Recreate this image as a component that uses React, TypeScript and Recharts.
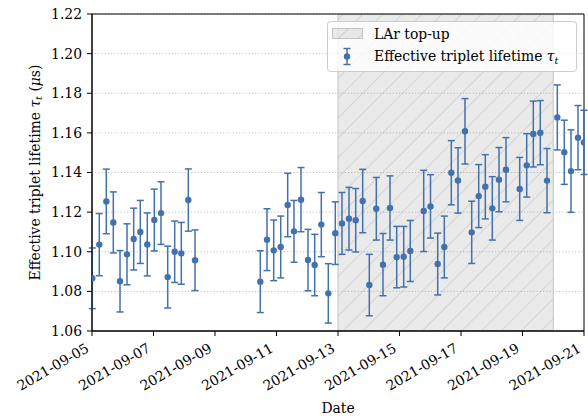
import React from 'react';
import {
  ComposedChart,
  Scatter,
  XAxis,
  YAxis,
  CartesianGrid,
  ReferenceArea,
  ErrorBar,
} from 'recharts';

// days since 2021-09-05 00:00
const dayOffsets = [
  0.01, 0.237, 0.465, 0.693, 0.911, 1.138, 1.356, 1.571, 1.798, 2.026, 2.244, 2.462, 2.689, 2.904, 3.132, 3.35,
  5.473, 5.691, 5.909, 6.137, 6.364, 6.569, 6.797, 7.024, 7.242, 7.457, 7.685, 7.912, 8.13, 8.358, 8.576, 8.803,
  9.018, 9.246, 9.463, 9.691, 9.909, 10.137, 10.351, 10.787, 11.008, 11.242, 11.457, 11.685, 11.902, 12.13,
  12.348, 12.576, 12.79, 13.018, 13.236, 13.463, 13.909, 14.137, 14.351, 14.579, 14.797, 15.132, 15.359, 15.577,
  15.805, 16.0,
];

const lifetimes = [
  1.0866, 1.1036, 1.1254, 1.1148, 1.0851, 1.0987, 1.1064, 1.11, 1.1037, 1.116, 1.1195, 1.0872, 1.1, 1.0992, 1.1261, 1.0957,
  1.0849, 1.1061, 1.1007, 1.1024, 1.1236, 1.1103, 1.1263, 1.0958, 1.0933, 1.1137, 1.079, 1.1094, 1.1143, 1.1167, 1.1159, 1.1256,
  1.0832, 1.1217, 1.0935, 1.1221, 1.0973, 1.0975, 1.1004, 1.1206, 1.1229, 1.0938, 1.1024, 1.1399, 1.136, 1.1608,
  1.1098, 1.1281, 1.1328, 1.1219, 1.1364, 1.1414, 1.1317, 1.1436, 1.1594, 1.1601, 1.1359, 1.1678, 1.1502, 1.1407,
  1.1576, 1.1552,
];

const errors = [
  0.0153, 0.0157, 0.0163, 0.0154, 0.0155, 0.0154, 0.0156, 0.0159, 0.0159, 0.0156, 0.0158, 0.0156, 0.0155, 0.0156, 0.0157, 0.0153,
  0.0156, 0.0156, 0.0153, 0.0156, 0.016, 0.0156, 0.0162, 0.0155, 0.0155, 0.0162, 0.015, 0.0158, 0.0156, 0.0158, 0.016, 0.016,
  0.0155, 0.0158, 0.0157, 0.0162, 0.0155, 0.0153, 0.0154, 0.0205, 0.016, 0.0156, 0.0156, 0.0162, 0.0165, 0.0165,
  0.0157, 0.0159, 0.0162, 0.016, 0.0162, 0.0162, 0.0159, 0.016, 0.0166, 0.0162, 0.0162, 0.0164, 0.0162, 0.0208,
  0.0162, 0.0162,
];

const xTickDays = [0, 2, 4, 6, 8, 10, 12, 14, 16];
const xTickLabels = [
  '2021-09-05', '2021-09-07', '2021-09-09', '2021-09-11', '2021-09-13',
  '2021-09-15', '2021-09-17', '2021-09-19', '2021-09-21',
];
const yTicks = [1.06, 1.08, 1.1, 1.12, 1.14, 1.16, 1.18, 1.2, 1.22];
const topupStart = 8; // 2021-09-13
const topupEnd = 15; // 2021-09-20

const seriesName = 'Effective triplet lifetime';
const topupName = 'LAr top-up';

const data = dayOffsets.map((d, i) => ({ day: d, tau: lifetimes[i], err: errors[i] }));

const FONT = "'DejaVu Serif', serif";
const FS = 13.9;
const BLUE = '#4271ae';

const XTick = (props: any) => {
  const { x, payload } = props;
  const idx = xTickDays.indexOf(payload.value);
  const label = idx >= 0 ? xTickLabels[idx] : '';
  const ax = x - 2;
  const ay = 351;
  return (
    <text
      x={ax}
      y={ay}
      transform={`rotate(-30, ${ax}, ${ay})`}
      textAnchor="end"
      fontFamily={FONT}
      fontSize={FS}
      fill="#000"
    >
      {label}
    </text>
  );
};

const YLabel = (props: any) => {
  const vb = props.viewBox || { y: 14, height: 317 };
  const cx = 35;
  const cy = vb.y + vb.height / 2;
  return (
    <text
      x={cx}
      y={cy}
      transform={`rotate(-90, ${cx}, ${cy})`}
      textAnchor="middle"
      dominantBaseline="central"
      fontFamily={FONT}
      fontSize={FS}
      fill="#000"
    >
      Effective triplet lifetime <tspan fontStyle="italic">τ</tspan>
      <tspan fontStyle="italic" fontSize={FS * 0.7} dy={3}>t</tspan>
      <tspan dy={-3}> (</tspan>
      <tspan fontStyle="italic">μ</tspan>s)
    </text>
  );
};

const XLabel = (props: any) => {
  const vb = props.viewBox || { x: 92, width: 492 };
  return (
    <text x={vb.x + vb.width / 2} y={413} textAnchor="middle" fontFamily={FONT} fontSize={FS} fill="#000">
      Date
    </text>
  );
};

const Dot = (p: any) => <circle cx={p.cx} cy={p.cy} r={3.2} fill={BLUE} />;

const HatchDefs = ({ id }: { id: string }) => (
  <defs>
    <pattern id={id} patternUnits="userSpaceOnUse" width="14" height="14" patternTransform="rotate(45)">
      <rect x="0" y="0" width="14" height="14" fill="#808080" fillOpacity={0.16} />
      <line x1="0" y1="0" x2="0" y2="14" stroke="#808080" strokeOpacity={0.3} strokeWidth={1.4} />
    </pattern>
  </defs>
);

export default function App() {
  return (
    <div style={{ position: 'absolute', left: 0, top: 0, width: 588, height: 419, background: '#fff' }}>
      <ComposedChart
        width={588}
        height={419}
        data={data}
        margin={{ top: 14, right: 4, bottom: 0, left: 0 }}
      >
        <HatchDefs id="hatchArea" />
        <CartesianGrid vertical={false} stroke="#b0b0b0" strokeDasharray="1 2.2" strokeWidth={0.9} />
        <XAxis
          type="number"
          dataKey="day"
          domain={[0, 16]}
          ticks={xTickDays}
          allowDataOverflow
          interval={0}
          height={88}
          tickSize={5}
          tick={<XTick />}
          axisLine={{ stroke: '#000', strokeWidth: 1 }}
          tickLine={{ stroke: '#000', strokeWidth: 1 }}
          label={<XLabel />}
        />
        <YAxis
          type="number"
          dataKey="tau"
          domain={[1.06, 1.22]}
          ticks={yTicks}
          allowDataOverflow
          interval={0}
          width={92}
          tickSize={5}
          tickMargin={5}
          tickFormatter={(v: number) => v.toFixed(2)}
          tick={{ fill: '#000', fontFamily: FONT, fontSize: FS }}
          axisLine={{ stroke: '#000', strokeWidth: 1 }}
          tickLine={{ stroke: '#000', strokeWidth: 1 }}
          label={<YLabel />}
        />
        <ReferenceArea
          x1={topupStart}
          x2={topupEnd}
          y1={1.06}
          y2={1.22}
          fill="url(#hatchArea)"
          fillOpacity={1}
          stroke="#c4c4c4"
          strokeWidth={1}
          ifOverflow="hidden"
        />
        <ReferenceArea
          x1={0}
          x2={16}
          y1={1.06}
          y2={1.22}
          fill="none"
          stroke="#000"
          strokeWidth={1}
        />
        <Scatter name={seriesName} dataKey="tau" fill={BLUE} shape={<Dot />} isAnimationActive={false}>
          <ErrorBar dataKey="err" direction="y" width={3.5} stroke={BLUE} strokeWidth={1.5} isAnimationActive={false} />
        </Scatter>
      </ComposedChart>
      <svg
        width={588}
        height={419}
        style={{ position: 'absolute', left: 0, top: 0, pointerEvents: 'none' }}
      >
        <HatchDefs id="hatchLegend" />
        <rect x={327.5} y={21.5} width={249} height={50} rx={3} fill="#fff" fillOpacity={0.8} stroke="#cccccc" strokeWidth={1} />
        <rect x={332.5} y={28.5} width={30} height={10} fill="url(#hatchLegend)" stroke="#c4c4c4" strokeWidth={1} />
        <text x={374} y={39} fontFamily={FONT} fontSize={FS} fill="#000">{topupName}</text>
        <line x1={347} y1={48.5} x2={347} y2={64.5} stroke={BLUE} strokeWidth={1.5} />
        <line x1={343.5} y1={48.5} x2={350.5} y2={48.5} stroke={BLUE} strokeWidth={1.5} />
        <line x1={343.5} y1={64.5} x2={350.5} y2={64.5} stroke={BLUE} strokeWidth={1.5} />
        <circle cx={347} cy={56.5} r={3.2} fill={BLUE} />
        <text x={374} y={61} fontFamily={FONT} fontSize={FS} fill="#000">
          {seriesName} <tspan fontStyle="italic">τ</tspan>
          <tspan fontStyle="italic" fontSize={FS * 0.7} dy={3}>t</tspan>
        </text>
      </svg>
    </div>
  );
}
